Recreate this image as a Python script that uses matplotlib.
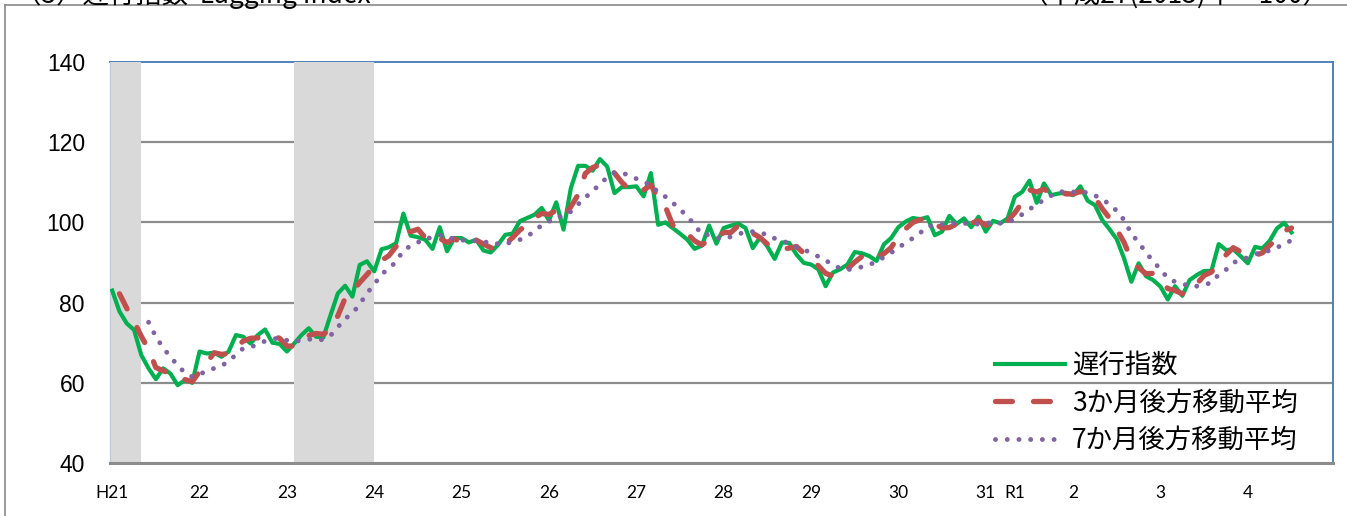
import matplotlib as mpl
mpl.use('Agg')
import numpy as np
import matplotlib.pyplot as plt
from matplotlib.lines import Line2D

mpl.rcParams['font.family'] = ['Liberation Sans', 'Noto Sans CJK JP', 'DejaVu Sans']

# monthly series from H21(2009).1, one value per month
lagging = [
    83.0, 77.8, 74.8, 73.2, 66.9, 63.6, 60.9, 63.6, 62.3, 59.4,
    60.7, 60.0, 67.8, 67.3, 67.5, 66.5, 67.8, 71.9, 71.5, 69.8,
    71.9, 73.3, 70.0, 69.7, 67.8, 69.8, 71.9, 73.6, 71.5, 71.3,
    76.9, 82.3, 84.2, 81.5, 89.4, 90.3, 87.8, 93.3, 93.8, 94.8,
    102.2, 96.7, 96.3, 95.7, 93.4, 98.8, 92.8, 96.1, 96.1, 95.0,
    95.7, 93.0, 92.5, 94.4, 96.9, 97.2, 100.3, 101.1, 101.9, 103.6,
    100.5, 105.0, 98.2, 108.5, 114.1, 114.1, 112.9, 115.8, 113.9, 107.3,
    108.8, 108.8, 109.0, 106.5, 112.3, 99.4, 100.0, 98.6, 97.2, 95.7,
    93.4, 94.2, 99.2, 94.7, 98.6, 99.2, 99.7, 98.6, 93.6, 96.3,
    94.0, 90.9, 95.0, 94.9, 92.0, 89.9, 89.5, 88.3, 84.1, 87.5,
    88.3, 89.5, 92.6, 92.3, 91.6, 90.4, 94.5, 96.1, 98.8, 100.2,
    101.1, 100.8, 101.3, 96.8, 97.7, 101.6, 99.6, 101.0, 98.8, 101.4,
    97.7, 100.4, 99.8, 101.0, 106.4, 107.6, 110.4, 104.9, 109.7, 106.8,
    107.2, 107.4, 106.8, 109.0, 105.4, 104.3, 100.6, 98.3, 95.8, 91.0,
    85.2, 89.8, 86.6, 85.6, 84.0, 80.8, 84.1, 81.7, 85.6, 86.9,
    87.9, 87.9, 94.6, 93.1, 93.3, 91.6, 89.8, 93.9, 93.5, 95.4,
    98.5, 99.9, 97.5,
]

# 3-month backward moving average, starts at H21.2
ma3_start = 1
ma3 = [
    82.2, 78.6, 75.3, 71.6, 68.3, 63.8, 63.0, 62.3, 61.8,
    60.8, 60.3, 62.8, 65.0, 67.5, 67.1, 67.3, 68.9, 70.4, 71.1,
    71.2, 71.8, 71.7, 71.1, 69.2, 69.1, 70.0, 71.8, 72.3, 72.1,
    73.3, 76.7, 81.1, 82.7, 85.0, 87.0, 89.1, 90.5, 91.7, 94.0,
    96.9, 97.7, 98.3, 96.2, 95.1, 96.0, 95.0, 95.9, 95.0, 95.7,
    95.6, 94.6, 93.7, 93.3, 94.6, 96.2, 98.1, 99.5, 101.1, 102.2,
    102.0, 103.0, 101.2, 103.9, 106.9, 112.2, 113.7, 114.3, 114.2, 112.3,
    110.0, 108.3, 108.9, 108.1, 109.3, 106.1, 103.9, 99.3, 98.6, 97.2,
    95.4, 94.4, 95.6, 96.0, 97.5, 97.5, 99.2, 99.2, 97.3, 96.2,
    94.6, 93.7, 93.3, 93.6, 94.0, 92.3, 90.5, 89.2, 87.3, 86.6,
    86.6, 88.4, 90.1, 91.5, 92.2, 91.4, 92.2, 93.7, 96.5, 98.4,
    100.0, 100.7, 101.1, 99.6, 98.6, 98.7, 99.6, 100.7, 99.8, 100.4,
    99.3, 99.8, 99.3, 100.4, 102.4, 105.0, 108.1, 107.6, 108.3, 107.1,
    107.9, 107.1, 107.1, 107.7, 107.1, 106.2, 103.4, 101.1, 98.2, 95.0,
    90.7, 88.7, 87.2, 87.3, 85.4, 83.5, 83.0, 82.2, 83.8, 84.7,
    86.8, 87.6, 90.1, 91.9, 93.7, 92.7, 91.6, 91.8, 92.4, 94.3,
    95.8, 97.9, 98.6,
]

# 7-month backward moving average, starts at H21.6
ma7_start = 5
ma7 = [
    75.1, 71.5, 68.7, 66.5, 64.3, 62.5, 61.5, 62.1, 63.0, 63.6,
    64.2, 65.4, 67.0, 68.6, 68.9, 69.6, 70.4, 70.9, 71.2, 70.6,
    70.3, 70.6, 70.9, 70.6, 70.8, 71.8, 73.9, 76.0, 77.3, 79.6,
    82.3, 84.6, 87.0, 88.6, 90.1, 93.1, 94.1, 95.0, 96.1, 96.1,
    96.8, 96.6, 95.7, 95.6, 95.4, 95.4, 95.4, 94.5, 94.7, 94.8,
    95.0, 95.7, 96.5, 97.8, 99.3, 100.2, 101.4, 101.5, 102.7, 104.5,
    106.3, 107.6, 109.8, 111.1, 112.4, 112.4, 111.7, 110.9, 110.0, 109.5,
    107.4, 106.4, 104.9, 103.3, 101.4, 99.5, 96.9, 96.9, 96.1, 96.1,
    96.4, 97.0, 97.7, 97.7, 97.2, 97.1, 96.0, 95.4, 94.8, 93.8,
    93.3, 92.3, 91.5, 90.5, 89.5, 88.5, 88.2, 88.5, 88.9, 89.4,
    90.3, 91.3, 92.4, 93.8, 94.8, 96.1, 97.4, 99.0, 99.3, 99.5,
    99.9, 99.8, 99.8, 99.5, 99.6, 99.7, 100.1, 99.8, 100.0, 100.8,
    102.0, 103.3, 104.4, 105.7, 106.7, 107.6, 107.7, 107.6, 107.4, 107.5,
    106.7, 105.8, 104.5, 102.9, 100.6, 97.2, 95.0, 92.5, 90.3, 88.3,
    86.1, 85.2, 84.7, 84.1, 84.1, 84.4, 85.0, 87.0, 88.2, 89.9,
    90.8, 91.2, 92.0, 92.8, 92.9, 93.7, 94.7, 95.5,
]

# recession periods (month index from H21.1)
recessions = [(0, 4), (25, 36)]

tick_months = [0, 12, 24, 36, 48, 60, 72, 84, 96, 108, 120, 124, 132, 144, 156]
tick_labels = ['H21', '22', '23', '24', '25', '26', '27', '28', '29', '30',
               '31', 'R1', '2', '3', '4']

green = '#00B050'
red = '#C0504D'
purple = '#8064A2'
grid_c = '#8C8C8C'

fig = plt.figure(figsize=(13.47, 5.16), dpi=100)
ax = fig.add_axes([110/1347., 1-463/516., 1223/1347., 401/516.])

x0, x1 = -0.3, 167.7
ax.set_xlim(x0, x1)
ax.set_ylim(40, 140)

for yv in [60, 80, 100, 120]:
    ax.axhline(yv, color=grid_c, lw=1.6, zorder=1)
ax.axhline(140, color='#4F81BD', lw=1.4, zorder=1, clip_on=False)

for s, e in recessions:
    ax.axvspan(s if s > 0 else x0, e, color='#D9D9D9', lw=0, zorder=1.5)

xl = np.arange(len(lagging))
x3 = np.arange(ma3_start, ma3_start + len(ma3))
x7 = np.arange(ma7_start, ma7_start + len(ma7))

ax.plot(xl, lagging, color=green, lw=3.0, zorder=4, solid_joinstyle='round',
        label='遅行指数')
ax.plot(x3, ma3, color=red, lw=3.8, zorder=5, dashes=(3.2, 4.0),
        dash_capstyle='round', label='3か月後方移動平均')
ax.plot(x7, ma7, color=purple, lw=3.5, zorder=6, dashes=(0.01, 2.4),
        dash_capstyle='round', label='7か月後方移動平均')

ax.spines['top'].set_visible(False)
ax.spines['right'].set_color('#4F81BD')
ax.spines['right'].set_linewidth(1.4)
ax.spines['left'].set_color('#B9CDE5')
ax.spines['left'].set_linewidth(1.0)
ax.spines['bottom'].set_color('#8C8C8C')
ax.spines['bottom'].set_linewidth(2.2)

ax.set_yticks([40, 60, 80, 100, 120, 140])
ax.tick_params(axis='y', length=0, pad=18, labelsize=16.5)
ax.set_xticks(tick_months)
ax.set_xticklabels(tick_labels, fontfamily='Lato', fontsize=12.5)
ax.tick_params(axis='x', length=0, pad=16)

leg = ax.legend(loc='upper left', bbox_to_anchor=(0.7236, 0.277), frameon=False,
                prop={'family': 'Noto Sans CJK JP', 'size': 19},
                handlelength=2.65, handletextpad=0.27, labelspacing=0.4,
                borderpad=0, borderaxespad=0)

# outer chart border (clipped by the image edges)
fig.add_artist(Line2D([5/1347., 1.0], [1-5/516., 1-5/516.], transform=fig.transFigure,
                      color='#898989', lw=1.2))
fig.add_artist(Line2D([5/1347., 5/1347.], [0.0, 1-5/516.], transform=fig.transFigure,
                      color='#898989', lw=1.2))

# header texts, mostly above the visible area
fig.text(15/1347., 1-3/516., '（3）遅行指数  Lagging Index', ha='left', va='baseline',
         fontsize=19, family=['Noto Sans CJK JP', 'DejaVu Sans'])
fig.text(1330/1347., 1-3/516., '（平成27(2015)年＝100）', ha='right', va='baseline',
         fontsize=19, family=['Noto Sans CJK JP', 'DejaVu Sans'])

plt.savefig('out.png', dpi=100)
plt.close()
